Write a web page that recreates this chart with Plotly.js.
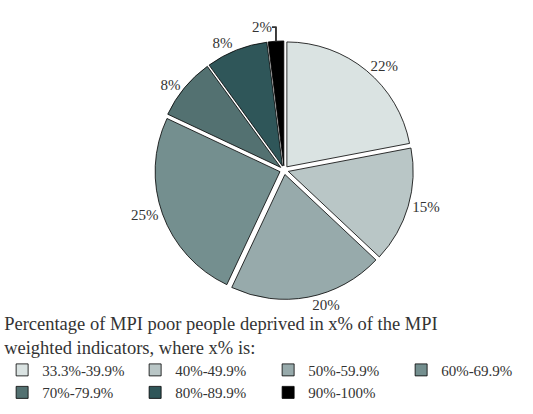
<!DOCTYPE html>
<html><head><meta charset="utf-8">
<script src="https://cdn.plot.ly/plotly-3.0.1.min.js"></script>
<style>html,body{margin:0;padding:0;background:#fff}#chart{width:533px;height:414px}</style>
</head><body><div id="chart"></div>
<script>
const categories = ["33.3%-39.9%", "40%-49.9%", "50%-59.9%", "60%-69.9%", "70%-79.9%", "80%-89.9%", "90%-100%"];
const shares = [22, 15, 20, 25, 8, 8, 2];
const colors = ["#dae3e2", "#b9c6c6", "#97aaab", "#748f8f", "#537171", "#2f5659", "#000000"];
const legendTitle = "Percentage of MPI poor people deprived in x% of the MPI<br>weighted indicators, where x% is:";

const trace = {
  type: "pie",
  labels: categories,
  values: shares,
  sort: false,
  direction: "clockwise",
  rotation: 0,
  pull: 0.035,
  marker: {colors: colors, line: {color: "#000", width: 0.8}},
  textinfo: "percent",
  texttemplate: "%{value}%",
  textposition: "outside",
  outsidetextfont: {family: "Liberation Serif, serif", size: 15, color: "#333"},
  hoverinfo: "none",
  domain: {x: [0.283, 0.783], y: [0.02, 0.866]}
};

const layout = {
  width: 533, height: 414,
  margin: {l: 0, r: 0, t: 0, b: 100},
  paper_bgcolor: "#fff",
  font: {family: "Liberation Serif, serif", color: "#333"},
  showlegend: true,
  legend: {
    orientation: "h",
    xref: "container", yref: "container",
    x: 0.004, xanchor: "left",
    y: 0.262, yanchor: "top",
    bgcolor: "rgba(0,0,0,0)",
    entrywidth: 88, entrywidthmode: "pixels",
    traceorder: "normal",
    font: {size: 15, color: "#333"},
    title: {text: legendTitle, side: "top", font: {size: 18.5, color: "#333"}},
    itemwidth: 30,
    tracegroupgap: 0
  }
};

Plotly.newPlot("chart", [trace], layout, {displayModeBar: false, staticPlot: true});
</script></body></html>
